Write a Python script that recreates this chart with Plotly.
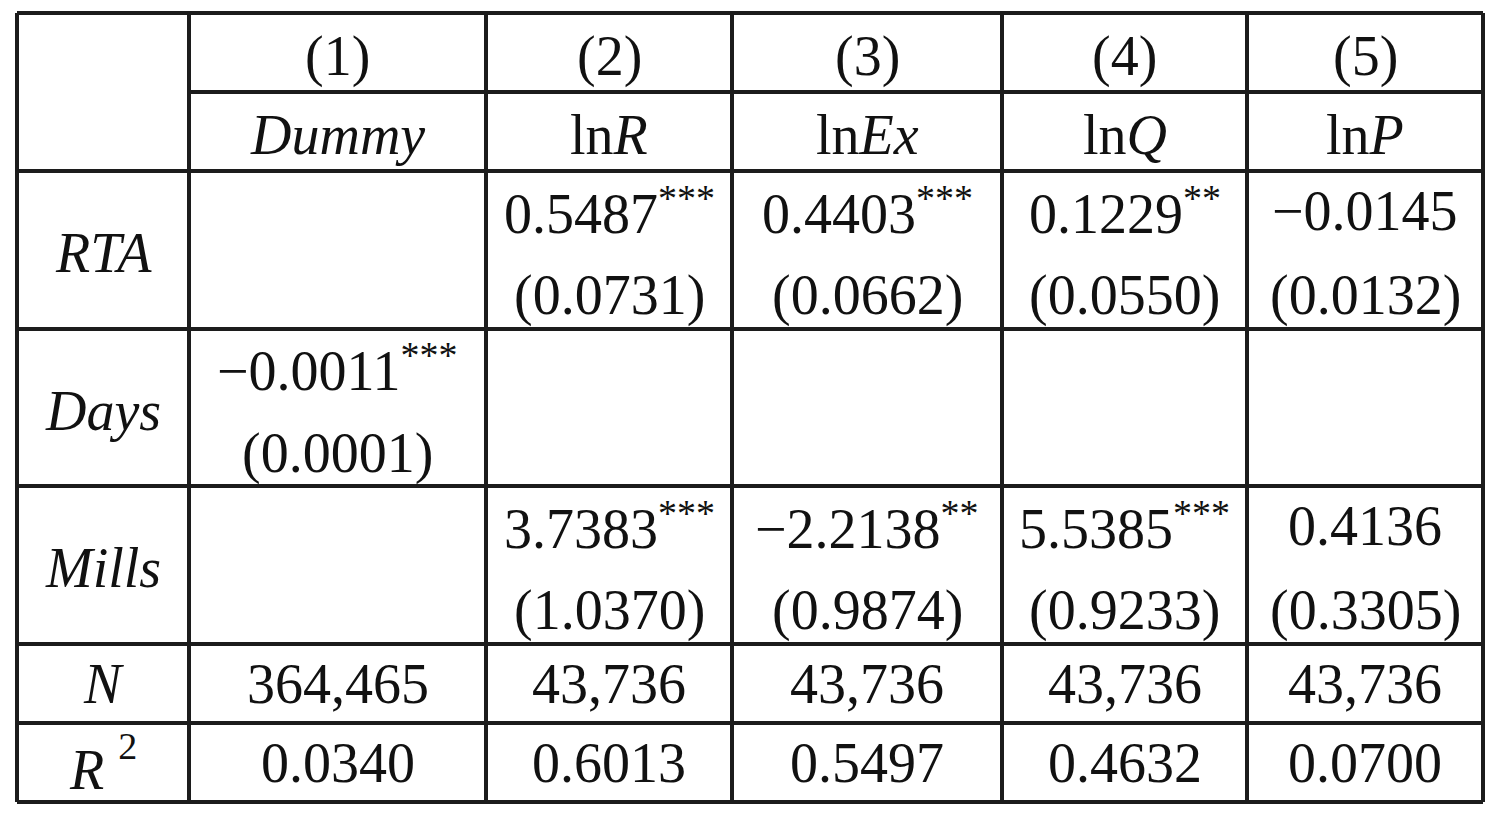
import plotly.graph_objects as go

# table content
col_nums = ["(1)", "(2)", "(3)", "(4)", "(5)"]
dep_vars = [("", "Dummy"), ("ln", "R"), ("ln", "Ex"), ("ln", "Q"), ("ln", "P")]
row_labels = ["RTA", "Days", "Mills"]

rta_coef = [None, 0.5487, 0.4403, 0.1229, -0.0145]
rta_se = [None, 0.0731, 0.0662, 0.0550, 0.0132]
rta_stars = ["", "***", "***", "**", ""]

days_coef = [-0.0011, None, None, None, None]
days_se = [0.0001, None, None, None, None]
days_stars = ["***", "", "", "", ""]

mills_coef = [None, 3.7383, -2.2138, 5.5385, 0.4136]
mills_se = [None, 1.0370, 0.9874, 0.9233, 0.3305]
mills_stars = ["", "***", "**", "***", ""]

n_obs = [364465, 43736, 43736, 43736, 43736]
r_squared = [0.0340, 0.6013, 0.5497, 0.4632, 0.0700]

# grid geometry (pixels of the page)
col_edges = [17, 189, 486, 732, 1002, 1247, 1483]
row_edges = [13, 92, 171, 329, 486, 644, 723, 802]
PAGE_PAD = 8  # default body margin of the html page
FONT = "Liberation Serif, Times New Roman, serif"
SIZE = 56
SUP_SIZE = 38
LINE = "#1c1c1c"


def fmt(v):
    return f"{v:.4f}".replace("-", "\u2212")


def ital(s):
    return f"<i>{s}</i>"


def raised(s, shift=22):
    # small raised text without plotly's <sup> helper spans
    return f"<span style='font-size:{SUP_SIZE}px;baseline-shift:{shift}px'>{s}</span>"


xc = [(col_edges[i] + col_edges[i + 1]) / 2 for i in range(len(col_edges) - 1)]
yc = [(row_edges[i] + row_edges[i + 1]) / 2 for i in range(len(row_edges) - 1)]

annotations = []


def put(x, y, t):
    annotations.append(dict(
        x=x, y=y, text=t, xref="x", yref="y", showarrow=False,
        xanchor="center", yanchor="middle",
        font=dict(family=FONT, size=SIZE, color="#111111"),
    ))


for j in range(5):
    put(xc[j + 1], yc[0] + 4, col_nums[j])
    up, it = dep_vars[j]
    put(xc[j + 1], yc[1] + 3, up + ital(it))

coef_rows = [(rta_coef, rta_se, rta_stars), (days_coef, days_se, days_stars),
             (mills_coef, mills_se, mills_stars)]
for r, (coef, se, stars) in enumerate(coef_rows):
    top = row_edges[r + 2]
    h = row_edges[r + 3] - top
    put(xc[0], yc[r + 2] + 3, ital(row_labels[r]))
    for j in range(5):
        if coef[j] is None:
            continue
        t = fmt(coef[j])
        if stars[j]:
            t += raised(stars[j])
        put(xc[j + 1], top + 0.25 * h, t)
        put(xc[j + 1], top + 0.79 * h, "(" + fmt(se[j]) + ")")

put(xc[0], yc[5], ital("N"))
put(xc[0], yc[6], ital("R") + " " + raised("2", 30))
for j in range(5):
    put(xc[j + 1], yc[5], f"{n_obs[j]:,}")
    put(xc[j + 1], yc[6], fmt(r_squared[j]))

fig = go.Figure()

shapes = []
for x in col_edges:
    shapes.append(dict(type="line", x0=x, x1=x, y0=row_edges[0], y1=row_edges[-1]))
for i, y in enumerate(row_edges):
    x0 = col_edges[1] if i == 1 else col_edges[0]
    shapes.append(dict(type="line", x0=x0, x1=col_edges[-1], y0=y, y1=y))
for s in shapes:
    s.update(xref="x", yref="y", line=dict(color=LINE, width=4))

fig.update_layout(
    width=1507, height=822, autosize=False,
    margin=dict(l=0, r=0, t=0, b=0),
    paper_bgcolor="white", plot_bgcolor="white",
    shapes=shapes, annotations=annotations,
    xaxis=dict(range=[PAGE_PAD, 1507 + PAGE_PAD], visible=False, fixedrange=True),
    yaxis=dict(range=[822 + PAGE_PAD, PAGE_PAD], visible=False, fixedrange=True),
)
fig.write_html("out.html")
